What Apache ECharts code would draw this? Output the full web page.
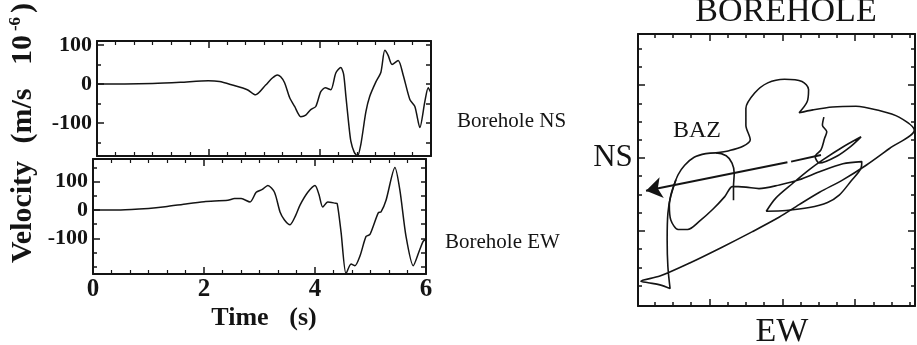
<!DOCTYPE html>
<html><head><meta charset="utf-8">
<script src="https://cdn.jsdelivr.net/npm/echarts@6/dist/echarts.min.js"></script>
<style>html,body{margin:0;padding:0;background:#fff}#c{width:917px;height:345px}</style>
</head><body><div id="c"></div>
<script>
// ---- data (velocity in m/s x 10^-6) ----
const timeNS = [0,0.5,1.0,1.5,2.0,2.2,2.43,2.7,2.85,3.03,3.15,3.24,3.3,3.37,3.46,3.55,3.66,3.75,3.84,3.93,4.02,4.1,4.2,4.29,4.38,4.43,4.47,4.52,4.56,4.62,4.68,4.74,4.83,4.9,5.01,5.1,5.17,5.23,5.3,5.41,5.5,5.62,5.71,5.8,5.89,5.95,6.0];
const velNS  = [0,0,1,4,8,6,-3,-15,-28,-3,15,23,18,3,-35,-58,-84,-80,-66,-58,-20,-10,-15,28,42,25,-30,-100,-147,-175,-185,-155,-72,-32,5,30,86,73,50,60,23,-40,-58,-112,-45,-10,-23];
const timeEW = [0,0.5,1.0,1.3,1.7,2.0,2.43,2.55,2.67,2.83,2.94,3.05,3.15,3.27,3.37,3.45,3.55,3.65,3.73,3.87,4.0,4.07,4.14,4.23,4.36,4.4,4.47,4.56,4.65,4.72,4.81,4.92,4.99,5.14,5.19,5.28,5.44,5.53,5.64,5.77,5.89,5.95,6.0];
const velEW  = [0,0,5,11,22,29,34,40,40,28,62,72,86,62,-7,-35,-52,-20,17,62,86,55,10,28,24,22,-79,-224,-190,-196,-162,-93,-86,-10,-7,34,149,69,-93,-196,-138,-110,-103];
const timeTicks = [0,2,4,6];
const velTickLabels = [-100,0,100];

// hodogram (particle motion) traces, EW vs NS
const hodoLoopEW = [-67,-67,-66,-69,-77,-91,-105,-121,-134,-143,-150,-155,-153,-143,-130,-114,-95,-79,-68,-50,-32,-4,23,51,83,109,108,94,78,62,37,5,-22,-9,14,37,55,83,108,94,74,51,45,53,58,61,55,57];
const hodoLoopNS = [-58,-39,-21,-7,3,7,6,1,-10,-23,-42,-64,-85,-98,-98,-87,-70,-53,-39,-40,-42,-37,-30,-19,-8,-5,-14,-32,-51,-61,-68,-72,-73,-55,-35,-16,-3,15,29,16,2,-7,2,11,27,36,45,56];
const hodoArcEW  = [-146,-153,-157,-158,-157,-154,-168,-184,-194,-168,-127,-82,-41,-4,23,51,83,115,147,181,160,133,101,69,42,23,34,36,27,3,-20,-38,-50,-50,-44,-54,-73,-91];
const hodoArcNS  = [-30,-51,-76,-112,-149,-179,-174,-171,-169,-162,-144,-122,-101,-81,-64,-47,-30,-10,13,38,56,65,71,70,66,62,77,94,105,108,103,89,68,45,25,16,10,7];
// back-azimuth arrow: tail, gap, tip
const bazEW = [53,12,7,-187];
const bazNS = [4,-5,-6,-45];

// ---- helpers ----
const INK = '#141414';
const SERIF = '"Liberation Serif","DejaVu Serif",serif';
const zip = (a,b) => a.map((v,i)=>[v,b[i]]);

function timeAxis(gridIndex, position, showLabels){
  return {
    type:'value', gridIndex, position, min:0, max:6, interval:2,
    axisLine:{show:true,onZero:false,lineStyle:{color:INK,width:2}},
    axisTick:{show:true,inside:true,length:7,lineStyle:{color:INK,width:1.5}},
    minorTick:{show:true,splitNumber:6,length:4,lineStyle:{color:INK,width:1.2}},
    splitLine:{show:false}, minorSplitLine:{show:false},
    axisLabel:{show:showLabels, customValues: timeTicks, fontFamily:SERIF, fontWeight:'bold', fontSize:25, color:INK, margin:3}
  };
}
function valAxis(gridIndex, position, min, max, labels, ticks, len, showLine){
  return {
    type:'value', gridIndex, position, min, max,
    axisLine:{show:showLine,onZero:false,lineStyle:{color:INK,width:2}},
    axisTick:{show:true,inside:true,length:len,customValues:ticks,lineStyle:{color:INK,width:1.5}},
    splitLine:{show:false},
    axisLabel:{show:labels.length>0, customValues:labels, fontFamily:SERIF, fontWeight:'bold', fontSize:22, color:INK, margin:5}
  };
}
function range(a,b,s){const r=[];for(let v=a;v<=b+1e-9;v+=s)r.push(v);return r;}

const hMin=-198, hMax=182, vMin=-203, vMax=170;
const hMajor=[-100,0,100];
const hMinor=range(-175,175,25).filter(v=>v%100!==0);

const chart = echarts.init(document.getElementById('c'), null, {renderer:'canvas'});
chart.setOption({
  animation:false,
  backgroundColor:'#fff',
  grid:[
    {left:97, top:41, width:334, height:115},
    {left:93, top:159, width:333, height:115},
    {left:638, top:34, width:277, height:272}
  ],
  xAxis:[
    timeAxis(0,'bottom',false),
    timeAxis(0,'top',false),
    timeAxis(1,'bottom',true),
    timeAxis(1,'top',false),
    valAxis(2,'bottom',hMin,hMax,[],hMajor,7,true),
    valAxis(2,'top',hMin,hMax,[],hMajor,7,true),
    valAxis(2,'bottom',hMin,hMax,[],hMinor,4,false),
    valAxis(2,'top',hMin,hMax,[],hMinor,4,false)
  ],
  yAxis:[
    valAxis(0,'left',-185,110,velTickLabels,[-100,0,100],7,true),
    valAxis(0,'left',-185,110,[],[-150,-50,50],4,false),
    valAxis(0,'right',-185,110,[],[-150,-100,-50,0,50,100],5,true),
    valAxis(1,'left',-225,179,velTickLabels,[-100,0,100],7,true),
    valAxis(1,'left',-225,179,[],[-200,-150,-50,50,150],4,false),
    valAxis(1,'right',-225,179,[],[-200,-150,-100,-50,0,50,100,150],5,true),
    valAxis(2,'left',vMin,vMax,[],hMajor,7,true),
    valAxis(2,'right',vMin,vMax,[],hMajor,7,true),
    valAxis(2,'left',vMin,vMax,[],hMinor,4,false),
    valAxis(2,'right',vMin,vMax,[],hMinor,4,false)
  ],
  series:[
    {type:'line', xAxisIndex:0, yAxisIndex:0, data:zip(timeNS,velNS), symbol:'none', smooth:0.25, lineStyle:{color:INK,width:1.5}},
    {type:'line', xAxisIndex:2, yAxisIndex:3, data:zip(timeEW,velEW), symbol:'none', smooth:0.25, lineStyle:{color:INK,width:1.5}},
    {type:'line', xAxisIndex:4, yAxisIndex:6, data:zip(hodoLoopEW,hodoLoopNS), symbol:'none', smooth:0.3, lineStyle:{color:INK,width:1.6}},
    {type:'line', xAxisIndex:4, yAxisIndex:6, data:zip(hodoArcEW,hodoArcNS), symbol:'none', smooth:0.3, lineStyle:{color:INK,width:1.6}},
    {type:'line', xAxisIndex:4, yAxisIndex:6, data:[[bazEW[0],bazNS[0]],[bazEW[1],bazNS[1]]], symbol:'none', lineStyle:{color:INK,width:2}},
    {type:'lines', coordinateSystem:'cartesian2d', xAxisIndex:4, yAxisIndex:6,
     symbol:['none','arrow'], symbolSize:[11,16],
     lineStyle:{color:INK,width:2,opacity:1,curveness:0},
     data:[{coords:[[bazEW[2],bazNS[2]],[bazEW[3],bazNS[3]]]}]}
  ],
  graphic:[
    {type:'text', x:23, y:212, rotation:Math.PI/2, style:{text:'Velocity', fontFamily:SERIF, fontWeight:'bold', fontSize:30, fill:INK, align:'center', verticalAlign:'middle'}},
    {type:'text', x:23, y:116, rotation:Math.PI/2, style:{text:'(m/s', fontFamily:SERIF, fontWeight:'bold', fontSize:30, fill:INK, align:'center', verticalAlign:'middle'}},
    {type:'text', x:23, y:50, rotation:Math.PI/2, style:{text:'10', fontFamily:SERIF, fontWeight:'bold', fontSize:30, fill:INK, align:'center', verticalAlign:'middle'}},
    {type:'text', x:16, y:24, rotation:Math.PI/2, style:{text:'-6', fontFamily:SERIF, fontWeight:'bold', fontSize:17, fill:INK, align:'center', verticalAlign:'middle'}},
    {type:'text', x:23, y:8, rotation:Math.PI/2, style:{text:')', fontFamily:SERIF, fontWeight:'bold', fontSize:30, fill:INK, align:'center', verticalAlign:'middle'}},
    {type:'text', x:240, y:318, style:{text:'Time', fontFamily:SERIF, fontWeight:'bold', fontSize:26, fill:INK, align:'center', verticalAlign:'middle'}},
    {type:'text', x:303, y:318, style:{text:'(s)', fontFamily:SERIF, fontWeight:'bold', fontSize:26, fill:INK, align:'center', verticalAlign:'middle'}},
    {type:'text', x:457, y:121, style:{text:'Borehole NS', fontFamily:SERIF, fontSize:21, fill:INK, align:'left', verticalAlign:'middle'}},
    {type:'text', x:445, y:242, style:{text:'Borehole EW', fontFamily:SERIF, fontSize:21, fill:INK, align:'left', verticalAlign:'middle'}},
    {type:'text', x:786, y:12, style:{text:'BOREHOLE', fontFamily:SERIF, fontSize:34, fill:INK, align:'center', verticalAlign:'middle'}},
    {type:'text', x:613, y:158, style:{text:'NS', fontFamily:SERIF, fontSize:31, fill:INK, align:'center', verticalAlign:'middle'}},
    {type:'text', x:782, y:332, style:{text:'EW', fontFamily:SERIF, fontSize:34, fill:INK, align:'center', verticalAlign:'middle'}},
    {type:'text', x:697, y:131, style:{text:'BAZ', fontFamily:SERIF, fontSize:24, fill:INK, align:'center', verticalAlign:'middle'}}
  ]
});
</script></body></html>
